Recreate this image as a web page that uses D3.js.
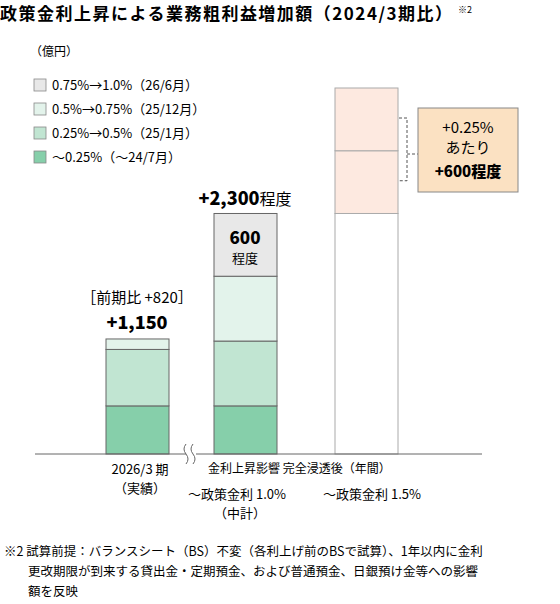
<!DOCTYPE html>
<html><head><meta charset="utf-8">
<script src="https://cdn.jsdelivr.net/npm/d3@7"></script>
<style>body{margin:0;background:#fff;font-family:"Noto Sans CJK JP","Noto Sans",sans-serif}</style>
</head><body><svg id="c" width="560" height="604"></svg>
<script>
// data
const bars = ["b1", "b2", "b3"];
const seriesNames = ["～0.25%（～24/7月）", "0.25%→0.5%（25/1月）", "0.5%→0.75%（25/12月）", "0.75%→1.0%（26/6月）"];
const b1Values = [460, 540, 100, 0];
const b2Values = [460, 620, 620, 600];
const b3Values = [2300, 600, 600];
const colors = ["#86cfaa", "#c1e5d2", "#e3f3eb", "#e8e8e8"];
const b3Colors = ["#ffffff", "#fde9e0", "#fde9e0"];

const svg = d3.select("#c");
const y = d3.scaleLinear().domain([0, 3500]).range([454, 88]);
const bw = 63;
const xs = {b1: 106, b2: 214, b3: 335};

// title
svg.append("text").attr("x", 0).attr("y", 20).attr("font-size", 17).attr("font-weight", "bold")
  .attr("textLength", 452).attr("lengthAdjust", "spacing")
  .text("政策金利上昇による業務粗利益増加額（2024/3期比）");
svg.append("text").attr("x", 458).attr("y", 13).attr("font-size", 9).text("※2");
svg.append("text").attr("x", 30).attr("y", 56).attr("font-size", 12).text("（億円）");

// legend
[3, 2, 1, 0].forEach((k, i) => {
  const yy = 79 + i * 24;
  svg.append("rect").attr("x", 34).attr("y", yy).attr("width", 12).attr("height", 12)
    .attr("fill", colors[k]).attr("stroke", "#888").attr("stroke-width", 0.8);
  svg.append("text").attr("x", 52).attr("y", yy + 11).attr("font-size", 13).text(seriesNames[k]);
});

function stack(key, vals, cols, stroke) {
  let acc = 0;
  vals.forEach((v, i) => {
    if (!v) return;
    svg.append("rect").attr("x", xs[key]).attr("width", bw)
      .attr("y", y(acc + v)).attr("height", y(acc) - y(acc + v))
      .attr("fill", cols[i]).attr("stroke", stroke).attr("stroke-width", 1);
    acc += v;
  });
  return acc;
}
stack("b1", b1Values, colors, "#666");
stack("b2", b2Values, colors, "#666");
stack("b3", b3Values, b3Colors, "#aaa");

// axis
svg.append("line").attr("x1", 35).attr("x2", 482).attr("y1", 454).attr("y2", 454).attr("stroke", "#666");
svg.append("rect").attr("x", 186).attr("y", 444).attr("width", 10).attr("height", 20).attr("fill", "#fff");
[186, 193].forEach(px => svg.append("path")
  .attr("d", `M${px},444 q-4,5 0,10 q4,5 0,10`).attr("fill", "none").attr("stroke", "#666"));

// bar labels
svg.append("text").attr("x", 137).attr("y", 303).attr("text-anchor", "middle").attr("font-size", 15).text("［前期比 +820］");
svg.append("text").attr("x", 137).attr("y", 329).attr("text-anchor", "middle").attr("font-size", 18).attr("font-weight", 900).text("+1,150");
svg.append("text").attr("x", 245).attr("y", 205).attr("text-anchor", "middle").attr("font-size", 18)
  .call(t => { t.append("tspan").attr("font-weight", 900).text("+2,300"); t.append("tspan").attr("font-size", 16).text("程度"); });
svg.append("text").attr("x", 245).attr("y", y(2000) - 1).attr("text-anchor", "middle").attr("font-size", 17).attr("font-weight", 900).text("600");
svg.append("text").attr("x", 245).attr("y", y(2000) + 18).attr("text-anchor", "middle").attr("font-size", 13).text("程度");

// callout
svg.append("path").attr("d", `M399,${y(3500)+30}h8V${y(2900)+30}h-8`).attr("fill", "none").attr("stroke", "#555").attr("stroke-dasharray", "3,2");
svg.append("line").attr("x1", 407).attr("x2", 418).attr("y1", 154).attr("y2", 154).attr("stroke", "#555").attr("stroke-dasharray", "3,2");
svg.append("rect").attr("x", 418).attr("y", 108).attr("width", 100).attr("height", 84).attr("fill", "#fbe1c2").attr("stroke", "#888");
[["+0.25%", 133, "normal"], ["あたり", 153, "normal"], ["+600程度", 177, "900"]].forEach(d =>
  svg.append("text").attr("x", 468).attr("y", d[1]).attr("text-anchor", "middle").attr("font-size", 15).attr("font-weight", d[2]).text(d[0]));

// x labels
svg.append("text").attr("x", 140).attr("y", 474).attr("text-anchor", "middle").attr("font-size", 13).text("2026/3 期");
svg.append("text").attr("x", 140).attr("y", 493).attr("text-anchor", "middle").attr("font-size", 13).text("（実績）");
svg.append("text").attr("x", 208).attr("y", 473).attr("font-size", 12).text("金利上昇影響 完全浸透後（年間）");
svg.append("text").attr("x", 188).attr("y", 499).attr("font-size", 13).text("～政策金利 1.0%");
svg.append("text").attr("x", 240).attr("y", 518).attr("text-anchor", "middle").attr("font-size", 13).text("（中計）");
svg.append("text").attr("x", 323).attr("y", 499).attr("font-size", 13).text("～政策金利 1.5%");

// footnote
["※2  試算前提：バランスシート（BS）不変（各利上げ前のBSで試算）、1年以内に金利",
 "更改期限が到来する貸出金・定期預金、および普通預金、日銀預け金等への影響",
 "額を反映"].forEach((s, i) =>
  svg.append("text").attr("x", i ? 28 : 4).attr("y", 556 + i * 20).attr("font-size", 12.5).text(s));
</script></body></html>
